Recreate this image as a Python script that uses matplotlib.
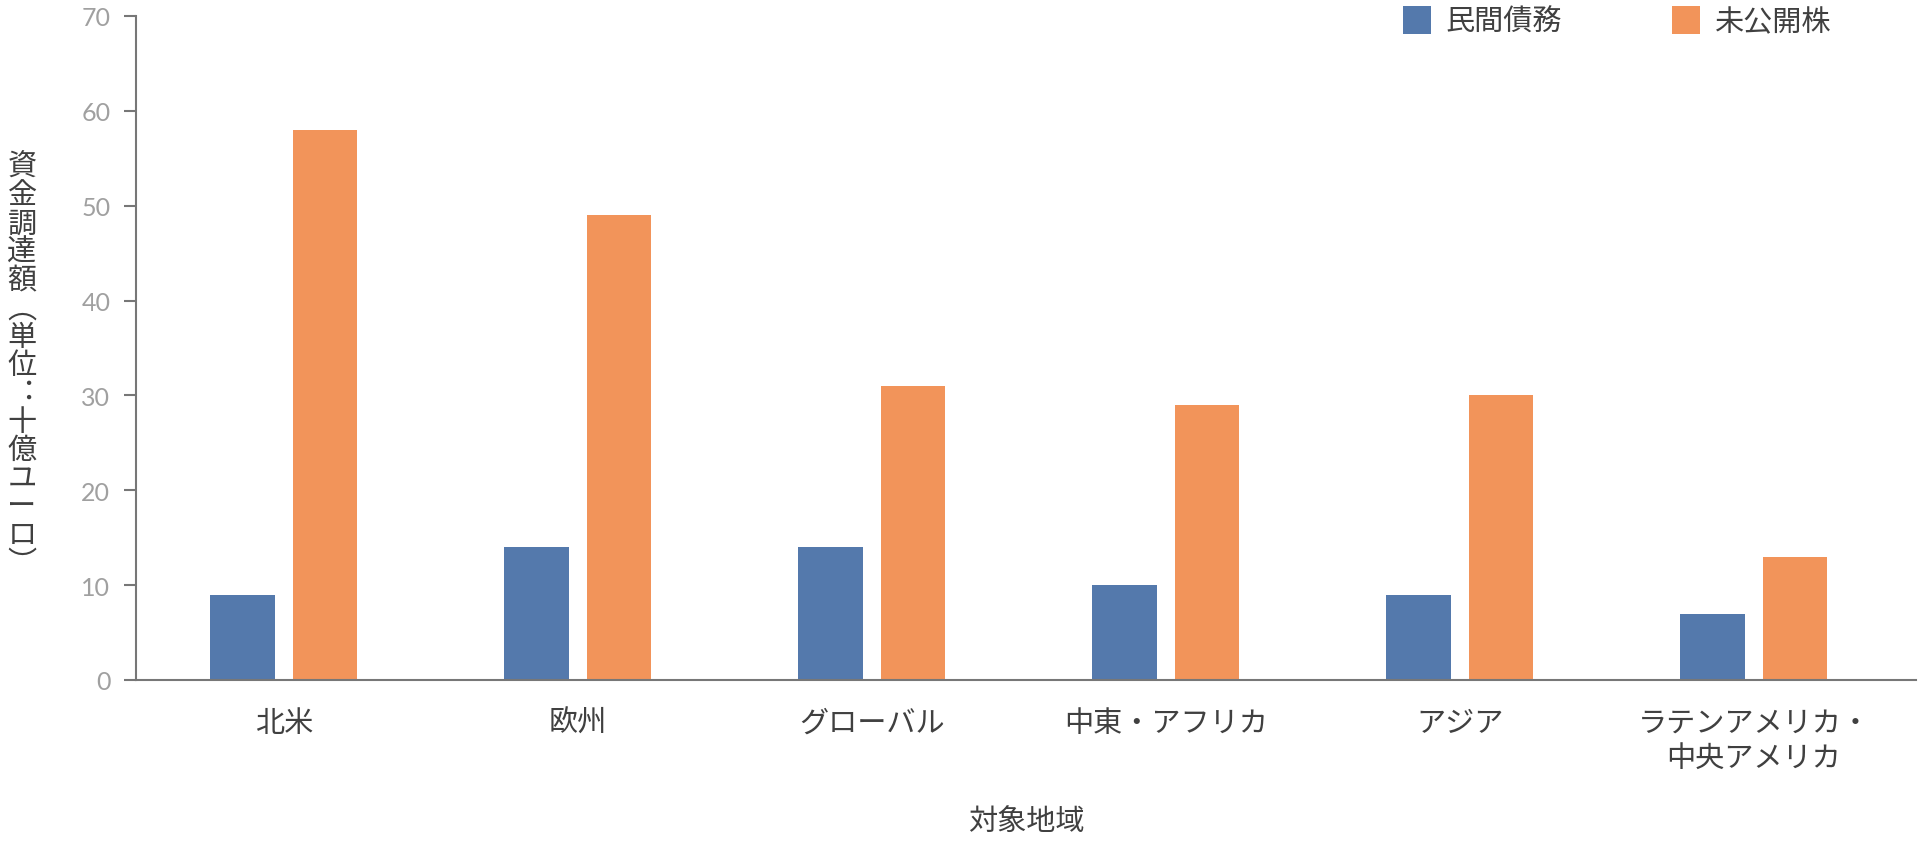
import matplotlib
matplotlib.use('Agg')
import matplotlib.pyplot as plt
import numpy as np

plt.rcParams['font.family'] = ['Noto Sans CJK JP', 'DejaVu Sans']

regions = ['北米', '欧州', 'グローバル', '中東・アフリカ', 'アジア', 'ラテンアメリカ・\n中央アメリカ']
private_debt = [9, 14, 14, 10, 9, 7]
private_equity = [58, 49, 31, 29, 30, 13]
series_names = ['民間債務', '未公開株']
y_ticks = [0, 10, 20, 30, 40, 50, 60, 70]
y_label = '資金調達額︵単位︓十億ユーロ︶'
x_label = '対象地域'

blue = '#5479ac'
orange = '#f2945a'
axis_grey = '#777777'
text_grey = '#404040'

fig = plt.figure(figsize=(19.2, 8.45), dpi=100)
ax = fig.add_axes([136 / 1920, 1 - 681 / 845, (1916 - 136) / 1920, (681 - 17) / 845])

x = np.arange(len(regions))
w = 0.22
ax.bar(x - 0.14, private_debt, w, color=blue, label=series_names[0])
ax.bar(x + 0.14, private_equity, w, color=orange, label=series_names[1])

ax.set_xlim(-0.503, 5.551)
ax.set_ylim(0, 70)
ax.set_yticks(y_ticks)
ax.set_yticklabels([str(v) for v in y_ticks], family=['Lato', 'DejaVu Sans'],
                   fontsize=18, color='#a0a0a0')
ax.set_xticks(x)
ax.set_xticklabels(regions, fontsize=21, color=text_grey, linespacing=1.2)

for s in ['top', 'right']:
    ax.spines[s].set_visible(False)
for s in ['left', 'bottom']:
    ax.spines[s].set_color(axis_grey)
    ax.spines[s].set_linewidth(1.5)
ax.tick_params(axis='y', length=8.5, width=1.5, color=axis_grey, pad=10)
ax.tick_params(axis='x', length=0, pad=20)

ax.set_xlabel(x_label, fontsize=21, color=text_grey, labelpad=24)

# vertical y label, one upright character per line
y0 = 168
step = 28.3
for i, ch in enumerate(y_label):
    fig.text(22 / 1920, 1 - (y0 + i * step) / 845, ch, ha='center', va='center',
             fontsize=21, color=text_grey)

leg = ax.legend(loc='upper right', bbox_to_anchor=(1831 / 1920, 1 - 7 / 845),
                bbox_transform=fig.transFigure, ncol=2, frameon=False,
                fontsize=21, handlelength=0.96, handleheight=1.1,
                handletextpad=0.5, columnspacing=3.78, borderpad=0, borderaxespad=0)
for t in leg.get_texts():
    t.set_color(text_grey)

fig.savefig('out.png', dpi=100)
